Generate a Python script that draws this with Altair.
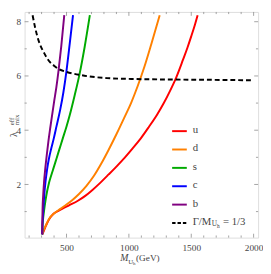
import altair as alt
import pandas as pd

# ---------------- data ----------------
series_names = ["u", "d", "s", "c", "b"]
series_colors = ["#ff0000", "#ff8000", "#00aa00", "#0000ff", "#800080"]

u_mass = [305, 319, 332, 344, 370, 396, 430, 461, 520, 591, 650, 708, 770, 838, 900, 967, 1030, 1097, 1160, 1227, 1280, 1330, 1380, 1434, 1470, 1499, 1530, 1551]
u_lam  = [0.16, 0.30, 0.45, 0.57, 0.78, 0.92, 1.02, 1.09, 1.23, 1.40, 1.58, 1.80, 2.06, 2.37, 2.66, 2.99, 3.33, 3.71, 4.12, 4.58, 5.00, 5.45, 5.95, 6.60, 7.05, 7.45, 7.90, 8.24]

d_mass = [305, 315, 332, 358, 410, 450, 500, 550, 600, 660, 720, 780, 838, 900, 967, 1019, 1070, 1123, 1180, 1247]
d_lam  = [0.16, 0.30, 0.47, 0.72, 0.97, 1.10, 1.26, 1.44, 1.65, 1.95, 2.32, 2.78, 3.28, 3.85, 4.50, 5.02, 5.62, 6.32, 7.18, 8.24]

s_mass = [305, 307, 311, 319, 332, 344, 358, 377, 397, 420, 445, 470, 500, 526, 565, 604, 645, 687]
s_lam  = [0.16, 0.42, 0.68, 1.00, 1.42, 1.74, 2.03, 2.33, 2.62, 2.96, 3.33, 3.70, 4.14, 4.56, 5.28, 6.06, 7.06, 8.24]

c_mass = [305, 307, 311, 316, 323, 332, 344, 358, 377, 397, 420, 449, 475, 500, 526, 552]
c_lam  = [0.16, 0.50, 0.86, 1.25, 1.70, 2.12, 2.55, 2.93, 3.32, 3.68, 4.15, 4.75, 5.40, 6.20, 7.20, 8.24]

b_mass = [305, 306, 308, 313, 320, 330, 342, 355, 370, 386, 402, 419, 436, 458, 482]
b_lam  = [0.16, 0.60, 1.10, 1.60, 2.10, 2.60, 3.10, 3.60, 4.10, 4.60, 5.10, 5.60, 6.20, 7.10, 8.24]

width_mass = [228, 250, 280, 320, 358, 400, 435, 500, 617, 824, 1019, 1300, 1600, 2000]
width_lam  = [8.24, 7.75, 7.25, 6.85, 6.56, 6.38, 6.26, 6.15, 6.03, 5.92, 5.89, 5.87, 5.86, 5.84]

x_major = [500, 1000, 1500, 2000]
x_minor = [200, 300, 400, 600, 700, 800, 900, 1100, 1200, 1300, 1400, 1600, 1700, 1800, 1900]
y_major = [2, 4, 6, 8]
y_minor = [1, 3, 5, 7]

# ---------------- layout ----------------
W, H = 239, 231
FONT = "Liberation Serif"
FRAME = "#8c8c8c"
TXT = "#444444"

xs = alt.Scale(domain=[164, 2036], nice=False, zero=False)
ys = alt.Scale(domain=[0.04, 8.36], nice=False, zero=False)

rows = []
for name, m, l in zip(series_names, [u_mass, d_mass, s_mass, c_mass, b_mass],
                      [u_lam, d_lam, s_lam, c_lam, b_lam]):
    for a, b in zip(m, l):
        rows.append({"series": name, "M": a, "lam": b})
curves = pd.DataFrame(rows)
dashed = pd.DataFrame({"M": width_mass, "lam": width_lam})

xenc = alt.X("M:Q", scale=xs,
             axis=alt.Axis(values=x_major, format="d", ticks=False, domain=False, grid=False,
                           labelFont=FONT, labelFontSize=9.5, labelColor=TXT,
                           labelPadding=5, title=None))
yenc = alt.Y("lam:Q", scale=ys,
             axis=alt.Axis(values=y_major, format="d", ticks=False, domain=False, grid=False,
                           labelFont=FONT, labelFontSize=9.5, labelColor=TXT,
                           labelPadding=4, title=None))

lines = alt.Chart(curves).mark_line(strokeWidth=2, interpolate="monotone", clip=True).encode(
    x=xenc, y=yenc,
    color=alt.Color("series:N", scale=alt.Scale(domain=series_names, range=series_colors), legend=None),
    detail="series:N",
)

dash = alt.Chart(dashed).mark_line(strokeWidth=2, color="black", strokeDash=[5, 3],
                                   interpolate="monotone", clip=True).encode(
    x=alt.X("M:Q", scale=xs), y=alt.Y("lam:Q", scale=ys))

# ---------------- frame ticks (inward, on all four sides) ----------------
def xticks(vals, length):
    d = pd.DataFrame({"M": vals})
    bot = alt.Chart(d).mark_rule(color=FRAME, strokeWidth=0.8).encode(
        x=alt.X("M:Q", scale=xs), y=alt.value(H), y2=alt.value(H - length))
    top = alt.Chart(d).mark_rule(color=FRAME, strokeWidth=0.8).encode(
        x=alt.X("M:Q", scale=xs), y=alt.value(0), y2=alt.value(length))
    return [bot, top]

def yticks(vals, length):
    d = pd.DataFrame({"lam": vals})
    lft = alt.Chart(d).mark_rule(color=FRAME, strokeWidth=0.8).encode(
        y=alt.Y("lam:Q", scale=ys), x=alt.value(0), x2=alt.value(length))
    rgt = alt.Chart(d).mark_rule(color=FRAME, strokeWidth=0.8).encode(
        y=alt.Y("lam:Q", scale=ys), x=alt.value(W), x2=alt.value(W - length))
    return [lft, rgt]

ticks = xticks(x_major, 4) + xticks(x_minor, 2.2) + yticks(y_major, 4) + yticks(y_minor, 2.2)

# ---------------- legend (drawn by hand, Mathematica style) ----------------
one = alt.Data(values=[{"k": 0}])
leg = []
LX0, LX1, LT, LY0, LDY = 151, 166, 172, 122, 18.8
for i, (name, col) in enumerate(zip(series_names, series_colors)):
    yy = LY0 + i * LDY
    leg.append(alt.Chart(one).mark_rule(color=col, strokeWidth=2).encode(
        x=alt.value(LX0), x2=alt.value(LX1), y=alt.value(yy)))
    leg.append(alt.Chart(one).mark_text(text=name, font=FONT, fontSize=11, color=TXT,
                                        align="left", baseline="middle").encode(
        x=alt.value(LT), y=alt.value(yy - 1)))
yy = LY0 + 5 * LDY
leg.append(alt.Chart(one).mark_rule(color="black", strokeWidth=2, strokeDash=[3.5, 2]).encode(
    x=alt.value(LX0), x2=alt.value(LX1), y=alt.value(yy)))
leg_text = [("Γ/M", LT, 0, 11), ("U", LT + 19.5, 2.5, 7.5), ("h", LT + 25, 4, 5.5), ("= 1/3", LT + 31, 0, 11)]
for t, xx, dy, fs in leg_text:
    leg.append(alt.Chart(one).mark_text(text=t, font=FONT, fontSize=fs, color=TXT,
                                        align="left", baseline="middle").encode(
        x=alt.value(xx), y=alt.value(yy - 1 + dy)))

# ---------------- axis titles with sub/superscripts ----------------
titles = []
TB = H + 24  # x title baseline
for t, xx, dy, fs, st in [("M", 98, 0, 10, "italic"), ("U", 106, 2.5, 7, "normal"),
                          ("h", 111, 4, 5, "normal"), ("(GeV)", 114, 0, 9.5, "normal")]:
    titles.append(alt.Chart(one).mark_text(text=t, font=FONT, fontSize=fs, fontStyle=st, color=TXT,
                                           align="left", baseline="alphabetic").encode(
        x=alt.value(xx), y=alt.value(TB + dy)))
# y title: lambda^eff_mix rotated
for t, xx, yy_, fs in [("λ", -10.5, 128, 11), ("eff", -13, 116, 7), ("mix", -8, 116, 7)]:
    titles.append(alt.Chart(one).mark_text(text=t, font=FONT, fontSize=fs, color=TXT, angle=270,
                                           align="left", baseline="middle").encode(
        x=alt.value(xx), y=alt.value(yy_)))

chart = alt.layer(lines, dash, *ticks, *leg, *titles).properties(
    width=W, height=H,
    autosize=alt.AutoSizeParams(type="none"),
    padding={"left": 17, "top": 1, "right": 5, "bottom": 26},
).configure_view(stroke=FRAME, strokeWidth=1).configure(background="white")

chart.save("out.html", embed_options={"renderer": "svg", "actions": False})
